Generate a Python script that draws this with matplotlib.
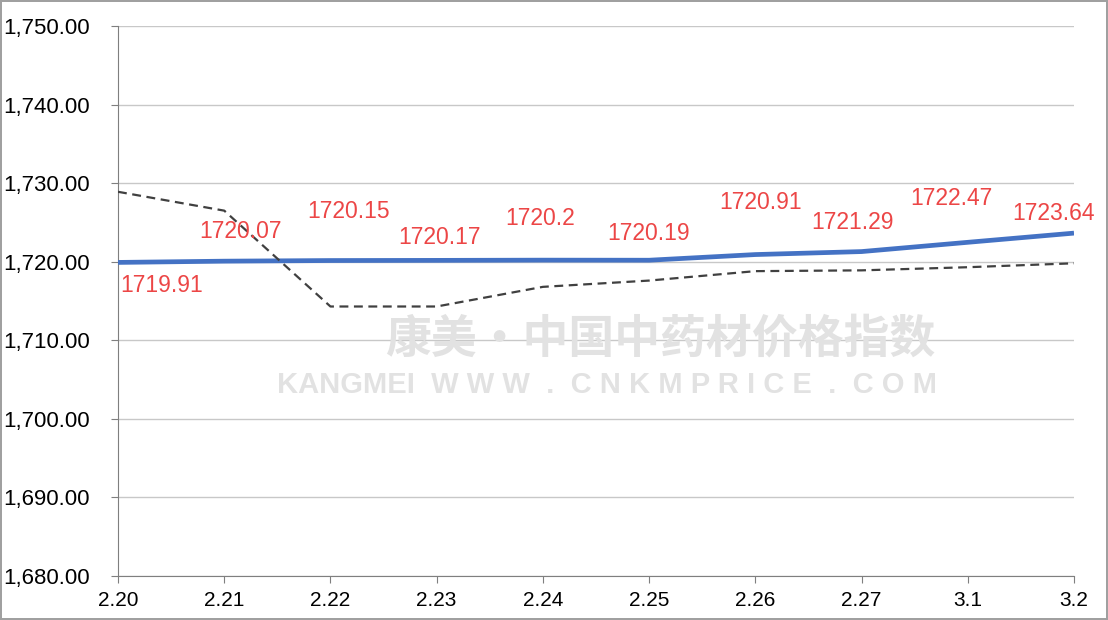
import matplotlib
matplotlib.use('Agg')
import matplotlib.pyplot as plt
from matplotlib.ticker import FuncFormatter

dates = ['2.20', '2.21', '2.22', '2.23', '2.24', '2.25', '2.26', '2.27', '3.1', '3.2']
index_vals = [1719.91, 1720.07, 1720.15, 1720.17, 1720.2, 1720.19, 1720.91, 1721.29, 1722.47, 1723.64]
index_labels = ['1719.91', '1720.07', '1720.15', '1720.17', '1720.2', '1720.19', '1720.91', '1721.29', '1722.47', '1723.64']
dashed_vals = [1728.9, 1726.5, 1714.3, 1714.3, 1716.8, 1717.6, 1718.8, 1718.9, 1719.3, 1719.8]

# label offsets in pixels (dx, dy) relative to each point
label_offsets = [(44, -23), (16, 30), (18, 49), (3, 23), (-3, 42), (-1, 27), (5, 52), (-9, 29), (-16, 44), (-21, 20)]

plt.rcParams['font.family'] = ['Liberation Sans', 'DejaVu Sans']

fig = plt.figure(figsize=(11.08, 6.2), dpi=100)
ax = fig.add_axes([118 / 1108, 44 / 620, 956 / 1108, 550 / 620])

x = list(range(len(dates)))
ax.plot(x, index_vals, color='#4472C4', linewidth=3.4, solid_capstyle='butt', zorder=3)
ax.plot(x, dashed_vals, color='#404040', linewidth=1.6, linestyle=(0, (4, 2.5)), zorder=4)

for i, (lab, off) in enumerate(zip(index_labels, label_offsets)):
    ax.annotate(lab, (x[i], index_vals[i]), xytext=off, textcoords='offset pixels',
                ha='center', va='center', fontsize=16.5, color='#ec4646', zorder=5)

# watermark
ax.text(0.567, 0.43, '康美·中国中药材价格指数', transform=ax.transAxes, ha='center', va='center',
        fontsize=33, fontweight='bold', color='#e2e2e2',
        family=['Noto Sans CJK SC', 'DejaVu Sans'], zorder=1)
ax.text(0.512, 0.347, 'KANGMEI  W W W  .  C N K M P R I C E  .  C O M', transform=ax.transAxes,
        ha='center', va='center', fontsize=21, fontweight='bold', color='#e2e2e2', zorder=1)

ax.set_xlim(0, len(dates) - 1)
ax.set_ylim(1680, 1750)
ax.set_yticks(range(1680, 1751, 10))
ax.yaxis.set_major_formatter(FuncFormatter(lambda v, p: f'{v:,.2f}'))
ax.set_xticks(x)
ax.set_xticklabels(dates)

ax.grid(axis='y', color='#c8c8c8', linewidth=1)
ax.set_axisbelow(True)
for s in ['top', 'right']:
    ax.spines[s].set_visible(False)
ax.spines['left'].set_color('#7f7f7f')
ax.spines['bottom'].set_color('#7f7f7f')
ax.tick_params(axis='y', length=5, color='#7f7f7f', labelsize=16, pad=15)
ax.tick_params(axis='x', length=5, color='#7f7f7f', labelsize=15, pad=6)

fig.patch.set_edgecolor('#a0a0a0')
fig.patch.set_linewidth(1.5)

plt.savefig('out.png', dpi=100)
